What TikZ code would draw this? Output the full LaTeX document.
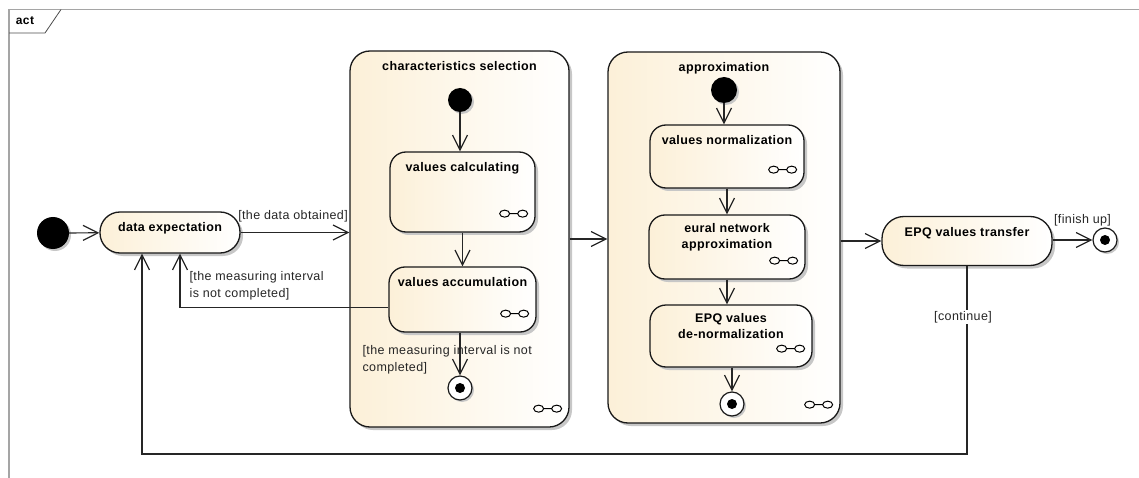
\documentclass[tikz,border=0pt]{standalone}
\usepackage{fontspec}
\setmainfont{Liberation Sans}[LetterSpace=3]
\usetikzlibrary{arrows.meta,positioning,shadows,calc}
\definecolor{umlcream}{RGB}{252,240,216}
\definecolor{umlgray}{RGB}{165,165,165}
\tikzset{>={Straight Barb[length=15pt,width=15pt]}}
\tikzset{
  umlbox/.style={draw=black!90,line width=1.3pt,left color=umlcream,right color=white,
    drop shadow={shadow xshift=3pt,shadow yshift=-3pt,fill=black!22,opacity=1}},
  region/.style={umlbox,rounded corners=20pt},
  activity/.style={umlbox,rounded corners=16pt},
  title/.style={font=\fontsize{12.5}{16}\selectfont\bfseries,inner sep=0pt,anchor=north,align=center},
  guard/.style={font=\fontsize{12.5}{17}\selectfont,text=black!85,inner sep=1pt,align=left},
  initnode/.style={circle,fill=black,inner sep=0pt,minimum size=#1,
    drop shadow={shadow xshift=2pt,shadow yshift=-2pt,fill=black!22,opacity=1}},
  finalnode/.style={circle,draw=black!90,line width=1.2pt,fill=white,inner sep=0pt,minimum size=24pt,
    path picture={\fill[black] (path picture bounding box.center) circle (5pt);},
    drop shadow={shadow xshift=2pt,shadow yshift=-2pt,fill=black!22,opacity=1}},
  flow/.style={->,line width=1.2pt,draw=black!85},
  rake/.pic={\draw[line width=1pt] (-9,0) ellipse (5 and 3.5) (9,0) ellipse (5 and 3.5) (-4,0) -- (4,0);}
}

\begin{document}
\begin{tikzpicture}[x=1pt,y=-1pt]
  \useasboundingbox (0,0) rectangle (1139,478);

  % diagram frame
  \draw[umlgray,line width=1.3pt] (9,478) -- (9,9.5) -- (1139,9.5);
  \draw[black!70,line width=0.8pt] (9,33) -- (45,33) -- (61,9.5);
  \node[font=\fontsize{12}{14}\selectfont\bfseries,inner sep=0pt] (act) at (25,21) {act};

  % start and waiting
  \node[initnode=32pt] (init) at (53,233) {};
  \node[activity,rounded corners=20pt,minimum width=140pt,minimum height=41pt] (dexp) at (170,232.5) {};
  \node[title] (dexpt) at ([yshift=-11pt]dexp.north) {data expectation};

  % characteristics selection
  \node[region,minimum width=219pt,minimum height=376pt] (cs) at (459.5,239) {};
  \node[title] (cst) at ([yshift=-11pt]cs.north) {characteristics selection};
  \node[initnode=24pt] (csinit) at (460,100) {};
  \node[activity,minimum width=145pt,minimum height=80pt] (calc) at (462.5,192) {};
  \node[title] (calct) at ([yshift=-11pt]calc.north) {values calculating};
  \node[activity,minimum width=147pt,minimum height=65pt] (accum) at (462.5,299.5) {};
  \node[title] (accumt) at ([yshift=-11pt]accum.north) {values accumulation};
  \node[finalnode] (csfinal) at (460,388) {};

  % approximation
  \node[region,minimum width=232pt,minimum height=371pt] (approx) at (724,237.5) {};
  \node[title] (approxt) at ([yshift=-11pt]approx.north) {approximation};
  \node[initnode=26pt] (apinit) at (724,90) {};
  \node[activity,minimum width=154pt,minimum height=63pt] (norm) at (727,156.5) {};
  \node[title] (normt) at ([yshift=-11pt]norm.north) {values normalization};
  \node[activity,minimum width=156pt,minimum height=64pt] (neural) at (727,247) {};
  \node[title] (neuralt) at ([yshift=-9pt]neural.north) {eural network\\approximation};
  \node[activity,minimum width=162pt,minimum height=62pt] (denorm) at (731,336) {};
  \node[title] (denormt) at ([yshift=-9pt]denorm.north) {EPQ values\\de-normalization};
  \node[finalnode] (apfinal) at (732,404) {};

  % transfer
  \node[activity,rounded corners=22pt,minimum width=170pt,minimum height=49pt] (transfer) at (967,241) {};
  \node[title] (transfert) at ([yshift=-11pt]transfer.north) {EPQ values transfer};
  \node[finalnode] (trfinal) at (1105,240) {};

  % rake icons
  \foreach \n in {calc,accum,cs,norm,neural,denorm,approx}
    \pic at ($(\n.south east)+(-22,-19)$) {rake};

  % flows
  \draw[flow] (init) -- (dexp);
  \draw[flow] (dexp.east) -- (dexp.east -| cs.west)
    node[guard,pos=0,anchor=south west,xshift=-4pt,yshift=9pt] (g1) {[the data obtained]};
  \draw[flow] (csinit) -- (csinit |- calc.north);
  \draw[flow] (calc) -- (accum);
  \draw[flow] (accum.south -| csfinal) -- (csfinal)
    node[guard,pos=0.64,anchor=west,xshift=-99pt] (g2) {[the measuring interval is not\\completed]};
  \draw[flow] ([yshift=-8pt]accum.west) -| ([xshift=10pt]dexp.south)
    node[guard,pos=0.7,anchor=west,xshift=8pt] (g3) {[the measuring interval\\is not completed]};
  \draw[flow] (cs.east) -- (cs.east -| approx.west);
  \draw[flow] (apinit) -- (apinit |- norm.north);
  \draw[flow] (norm) -- (neural);
  \draw[flow] (neural.south) -- (neural.south |- denorm.north);
  \draw[flow] (denorm.south -| apfinal) -- (apfinal);
  \draw[flow] (transfer.west -| approx.east) -- (transfer.west);
  \draw[flow] (trfinal -| transfer.east) -- (trfinal)
    node[guard,pos=0.5,anchor=south,xshift=10pt,yshift=12pt] (g4) {[finish up]};
  \draw[flow] (transfer.south) -- (transfer.south |- 0,454)
    node[guard,pos=0.27,fill=white,xshift=-4pt] (g5) {[continue]}
    -| ([xshift=-28pt]dexp.south);
\end{tikzpicture}
\end{document}
